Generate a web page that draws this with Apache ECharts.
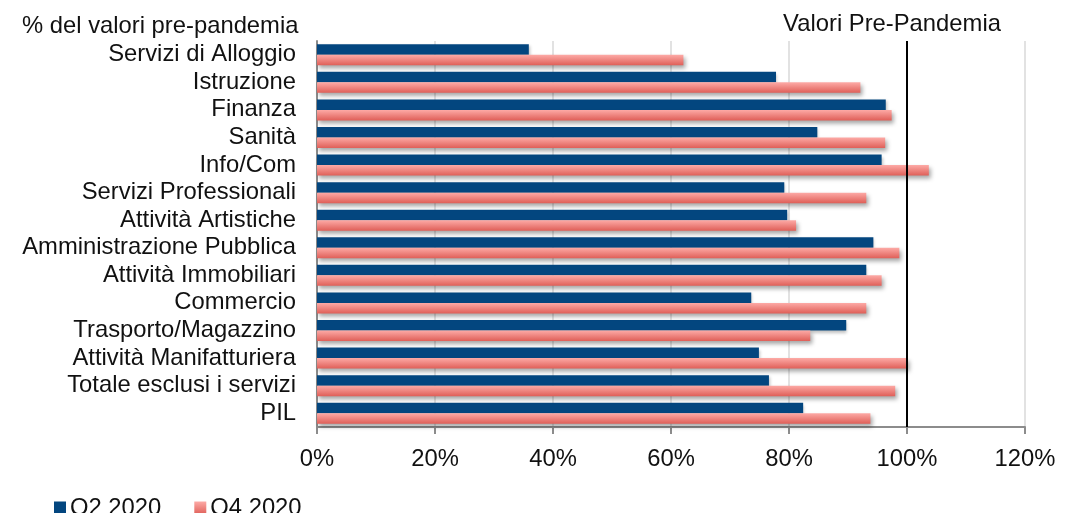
<!DOCTYPE html>
<html>
<head>
<meta charset="utf-8">
<script src="https://cdn.jsdelivr.net/npm/echarts@6/dist/echarts.min.js"></script>
<style>
  html, body { margin: 0; padding: 0; background: #fff; }
  #chart { width: 1069px; height: 513px; }
</style>
</head>
<body>
<div id="chart"></div>
<script>
// Sectors, top to bottom
const categories = [
  'Servizi di Alloggio', 'Istruzione', 'Finanza', 'Sanità', 'Info/Com',
  'Servizi Professionali', 'Attività Artistiche', 'Amministrazione Pubblica',
  'Attività Immobiliari', 'Commercio', 'Trasporto/Magazzino',
  'Attività Manifatturiera', 'Totale esclusi i servizi', 'PIL'
];
// Output as % of pre-pandemic level
const q2_2020 = [35.9, 77.8, 96.4, 84.8, 95.7, 79.2, 79.7, 94.3, 93.1, 73.6, 89.7, 74.9, 76.6, 82.4];
const q4_2020 = [62.1, 92.1, 97.4, 96.3, 103.7, 93.1, 81.2, 98.7, 95.7, 93.1, 83.6, 100.1, 98.0, 93.8];
const seriesNames = ['Q2 2020', 'Q4 2020'];
const preLevel = 100;

const FONT = '"Liberation Sans", Arial, Helvetica, sans-serif';
const FS = 23.8;
const TXT = '#111';

const chart = echarts.init(document.getElementById('chart'), null, { renderer: 'canvas' });

const pinkGrad = new echarts.graphic.LinearGradient(0, 0, 0, 1, [
  { offset: 0, color: '#fdaaa6' },
  { offset: 1, color: '#df5f58' }
]);

chart.setOption({
  animation: false,
  textStyle: { fontFamily: FONT },
  title: {
    text: '% del valori pre-pandemia',
    left: 17, top: 9,
    textStyle: { fontFamily: FONT, fontSize: FS, fontWeight: 'normal', color: TXT }
  },
  legend: {
    left: 49, top: 491,
    itemWidth: 12, itemHeight: 13, itemGap: 33,
    icon: 'rect',
    textStyle: { fontFamily: FONT, fontSize: FS, color: TXT, padding: [0, 0, 0, -1] },
    data: seriesNames
  },
  grid: { left: 317, right: 44, top: 41, bottom: 86, containLabel: false },
  xAxis: {
    type: 'value', min: 0, max: 120, interval: 20,
    axisLine: { show: true, lineStyle: { color: '#8c8c8c', width: 2 } },
    axisTick: { show: true, length: 7, lineStyle: { color: '#8c8c8c', width: 2 } },
    axisLabel: { formatter: '{value}%', fontFamily: FONT, fontSize: FS, color: TXT, margin: 20 },
    splitLine: { show: true, lineStyle: { color: '#d9d9d9', width: 1.5 } }
  },
  yAxis: {
    type: 'category', data: categories, inverse: true,
    axisLine: { show: true, lineStyle: { color: '#8c8c8c', width: 2 } },
    axisTick: { show: false },
    axisLabel: { interval: 0, fontFamily: FONT, fontSize: FS, color: TXT, margin: 21 }
  },
  series: [
    {
      name: seriesNames[0], type: 'bar', data: q2_2020,
      barWidth: 10.5, barGap: '0%',
      itemStyle: {
        color: '#03467f',
        shadowColor: 'rgba(0,0,0,0.25)', shadowBlur: 3, shadowOffsetX: 1, shadowOffsetY: 2
      },
      markLine: {
        silent: true, symbol: 'none',
        lineStyle: { color: '#000', width: 2, type: 'solid' },
        label: {
          show: true, position: 'start', formatter: 'Valori Pre-Pandemia',
          fontFamily: FONT, fontSize: FS, color: TXT, distance: 5, offset: [-15, 0]
        },
        data: [{ xAxis: preLevel }]
      }
    },
    {
      name: seriesNames[1], type: 'bar', data: q4_2020,
      barWidth: 10.5,
      itemStyle: {
        color: pinkGrad,
        shadowColor: 'rgba(0,0,0,0.35)', shadowBlur: 4, shadowOffsetX: 2, shadowOffsetY: 3
      }
    }
  ]
});
</script>
</body>
</html>
